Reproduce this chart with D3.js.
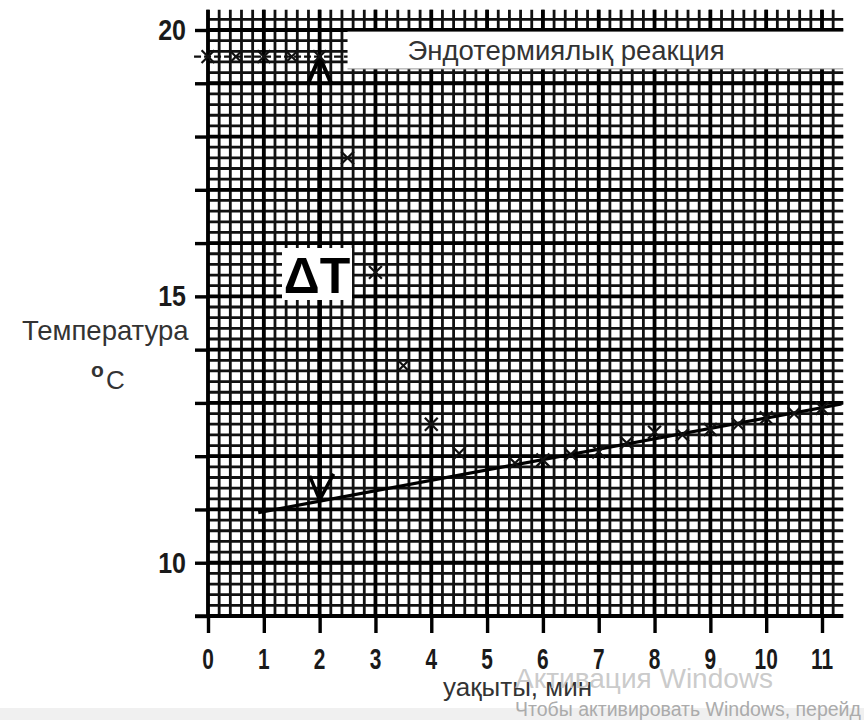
<!DOCTYPE html>
<html>
<head>
<meta charset="utf-8">
<script src="https://cdn.jsdelivr.net/npm/d3@7"></script>
<style>
  body { margin: 0; background: #fff; }
  svg { display: block; font-family: "Liberation Sans", Arial, sans-serif; }
</style>
</head>
<body>
<script>
(function() {
    'use strict';

    // measured points, time (min) vs temperature (°C)
    let timeMin = [0, 0.5, 1, 1.5, 2, 2.5, 3, 3.5, 4, 4.5,
                   5.5, 6, 6.5, 7, 7.5, 8, 8.5, 9, 9.5, 10, 10.5, 11];
    let tempC = [19.5, 19.5, 19.5, 19.5, 19.5, 17.6, 15.45, 13.7, 12.6, 12.05,
                 11.87, 11.93, 12.03, 12.08, 12.25, 12.45, 12.4, 12.5, 12.6, 12.72, 12.8, 12.9];

    // fore period (dashed) and after period trend line
    let foreTime = [-0.25, 2.5];
    let foreTemp = [19.5, 19.5];
    let trendTime = [0.9, 11.35];
    let trendTemp = [10.94, 12.98];

    // ΔT arrow at t = 2
    let deltaTime = 2;
    let deltaTop = 19.5;
    let deltaBottom = 11.18;

    let xTicks = [0, 1, 2, 3, 4, 5, 6, 7, 8, 9, 10, 11];
    let yTicks = [9, 10, 11, 12, 13, 14, 15, 16, 17, 18, 19, 20];
    let yLabels = [10, 15, 20];

    let width = 864, height = 720;

    let x = d3.scaleLinear().domain([0, 11]).range([208, 822]);
    let y = d3.scaleLinear().domain([9, 20]).range([616, 30]);

    let xMax = 11.38, yMax = 20.38;

    let svg = d3.select("body").append("svg")
        .attr("width", width)
        .attr("height", height);

    svg.append("rect").attr("width", width).attr("height", height).attr("fill", "#fff");

    // graph paper
    let grid = svg.append("g");
    let minorX = d3.range(0, xMax + 0.001, 0.2);
    let minorY = d3.range(9, yMax + 0.001, 0.2);

    grid.selectAll(".vminor").data(minorX).enter().append("line")
        .attr("x1", function(d) { return x(d); })
        .attr("x2", function(d) { return x(d); })
        .attr("y1", y(9)).attr("y2", y(yMax))
        .attr("stroke", "#111").attr("stroke-width", 2.8);
    grid.selectAll(".hminor").data(minorY).enter().append("line")
        .attr("y1", function(d) { return y(d); })
        .attr("y2", function(d) { return y(d); })
        .attr("x1", x(0)).attr("x2", x(xMax))
        .attr("stroke", "#111").attr("stroke-width", 2.8);

    grid.selectAll(".vmajor").data(xTicks).enter().append("line")
        .attr("x1", function(d) { return x(d); })
        .attr("x2", function(d) { return x(d); })
        .attr("y1", y(9)).attr("y2", y(yMax))
        .attr("stroke", "#000").attr("stroke-width", 3.8);
    grid.selectAll(".hmajor").data(yTicks).enter().append("line")
        .attr("y1", function(d) { return y(d); })
        .attr("y2", function(d) { return y(d); })
        .attr("x1", x(0)).attr("x2", x(xMax))
        .attr("stroke", "#000").attr("stroke-width", 3.8);

    // axes: tick marks only, labels drawn separately
    let yAxis = d3.axisLeft(y).tickValues(yTicks).tickSize(13).tickFormat("");
    let gy = svg.append("g").attr("transform", "translate(" + x(0) + ",0)").call(yAxis);
    gy.select(".domain").remove();
    gy.selectAll(".tick line").attr("stroke", "#000").attr("stroke-width", 3.4);

    let xAxis = d3.axisBottom(x).tickValues(xTicks).tickSize(17).tickFormat("");
    let gx = svg.append("g").attr("transform", "translate(0," + y(9) + ")").call(xAxis);
    gx.select(".domain").remove();
    gx.selectAll(".tick line").attr("stroke", "#000").attr("stroke-width", 3.4);
    gx.append("line").attr("x1", 195).attr("x2", x(0))
        .attr("stroke", "#000").attr("stroke-width", 3.4);

    svg.append("g").selectAll("text").data(yLabels).enter().append("text")
        .attr("transform", function(d) { return "translate(186," + (y(d) + 10) + ") scale(1,1.18)"; })
        .attr("text-anchor", "end")
        .attr("font-size", 25).attr("font-weight", "bold").attr("fill", "#1a1a1a")
        .text(function(d) { return d; });

    svg.append("g").selectAll("text").data(xTicks).enter().append("text")
        .attr("transform", function(d) { return "translate(" + x(d) + ",669) scale(0.95,1.35)"; })
        .attr("text-anchor", "middle")
        .attr("font-size", 22).attr("font-weight", "bold").attr("fill", "#1a1a1a")
        .text(function(d) { return d; });

    // title box
    svg.append("rect")
        .attr("x", x(2.5)).attr("y", y(19.97))
        .attr("width", width - x(2.5)).attr("height", y(19.27) - y(19.97))
        .attr("fill", "#fff");
    svg.append("line")
        .attr("x1", x(2.5)).attr("x2", x(xMax))
        .attr("y1", y(19.27)).attr("y2", y(19.27))
        .attr("stroke", "#999").attr("stroke-width", 1);
    svg.append("text")
        .attr("x", 566).attr("y", 60)
        .attr("text-anchor", "middle")
        .attr("font-size", 27.5).attr("fill", "#333")
        .text("Эндотермиялық реакция");

    let line = d3.line()
        .x(function(d) { return x(d[0]); })
        .y(function(d) { return y(d[1]); });

    // fore period
    svg.append("path")
        .attr("d", line(d3.zip(foreTime, foreTemp)))
        .attr("fill", "none").attr("stroke", "#111")
        .attr("stroke-width", 2.2).attr("stroke-dasharray", "7,3");

    // trend line
    svg.append("path")
        .attr("d", line(d3.zip(trendTime, trendTemp)))
        .attr("fill", "none").attr("stroke", "#000").attr("stroke-width", 3.2);

    // ΔT arrow
    let ax = x(deltaTime);
    svg.append("line")
        .attr("x1", ax).attr("x2", ax)
        .attr("y1", y(deltaTop)).attr("y2", y(deltaBottom))
        .attr("stroke", "#000").attr("stroke-width", 4.5);
    svg.append("path")
        .attr("d", "M" + (ax - 12) + "," + (y(deltaTop) + 28) + "L" + ax + "," + y(deltaTop) +
                   "L" + (ax + 12) + "," + (y(deltaTop) + 28))
        .attr("fill", "none").attr("stroke", "#000").attr("stroke-width", 4);
    svg.append("path")
        .attr("d", "M" + (ax - 10) + "," + (y(deltaBottom) - 24) + "L" + ax + "," + y(deltaBottom) +
                   "L" + (ax + 14) + "," + (y(deltaBottom) - 26))
        .attr("fill", "none").attr("stroke", "#000").attr("stroke-width", 3.5);

    svg.append("rect")
        .attr("x", 282).attr("y", 248).attr("width", 70).attr("height", 52)
        .attr("fill", "#fff");
    svg.append("text")
        .attr("x", 317).attr("y", 293)
        .attr("text-anchor", "middle")
        .attr("font-size", 50).attr("font-weight", "bold").attr("fill", "#000")
        .text("ΔT");

    // measured points
    let marker = d3.symbol().type(d3.symbolTimes).size(110);
    svg.append("g").selectAll("path").data(d3.zip(timeMin, tempC)).enter().append("path")
        .attr("transform", function(d) { return "translate(" + x(d[0]) + "," + y(d[1]) + ")"; })
        .attr("d", marker)
        .attr("fill", "none").attr("stroke", "#111").attr("stroke-width", 2.2);

    // axis titles
    svg.append("text")
        .attr("x", 22).attr("y", 340)
        .attr("font-size", 27.5).attr("fill", "#333")
        .text("Температура");
    svg.append("text")
        .attr("x", 91).attr("y", 377)
        .attr("font-size", 21).attr("font-weight", "bold").attr("fill", "#333")
        .text("o");
    svg.append("text")
        .attr("x", 106).attr("y", 389)
        .attr("font-size", 26).attr("fill", "#333")
        .text("C");
    svg.append("text")
        .attr("x", 443).attr("y", 696)
        .attr("font-size", 26).attr("fill", "#333")
        .text("уақыты, мин");

    // Windows activation watermark
    svg.append("rect").attr("x", 0).attr("y", 708).attr("width", width).attr("height", 12)
        .attr("fill", "#f0f0f0");
    svg.append("text")
        .attr("x", 515).attr("y", 688)
        .attr("font-size", 28).attr("fill", "#c4c4c4").attr("fill-opacity", 0.9)
        .text("Активация Windows");
    svg.append("text")
        .attr("x", 515).attr("y", 716)
        .attr("font-size", 19.5).attr("fill", "#ababab")
        .text("Чтобы активировать Windows, перейд");
})();
</script>
</body>
</html>
